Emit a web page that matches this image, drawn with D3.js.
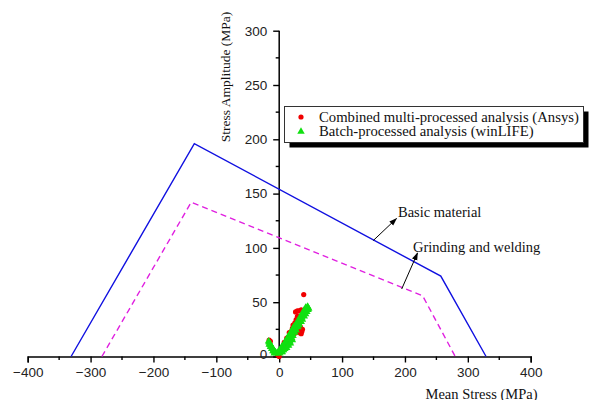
<!DOCTYPE html>
<html><head><meta charset="utf-8">
<script src="https://cdn.jsdelivr.net/npm/d3@7"></script>
<style>body{margin:0;background:#fff}svg{display:block}</style>
</head><body>
<svg id="c" width="589" height="400"></svg>
<script>
// ---- data ----
const xTicks = [-400,-300,-200,-100,0,100,200,300,400];
const yTicks = [0,50,100,150,200,250,300];
const basicX = [-331,-135,257,329];
const basicY = [0,196,74,0];
const grindX = [-282,-140,228,280];
const grindY = [0,142,56,0];
const redX = [0,-16,-14,-3,-1,3,5,7,9,11,13,15,17,19,21,23,25,27,29,26,29,32,35,37,39,31,33,35,37,34,36,20,24,28,8,12,16,22];
const redY = [0,15,14,2,1,5,8,10,12,14,16,18,21,23,26,28,31,34,37,41,42,42,43,41,57,22,24,21,25,27,23,17,21,24,13,17,22,29];
const greenX = [-17,-16,-15,-14,-13,-12,-11,-10,-9,-8,-7,-6,-4,-2,0,1,3,4,6,8,9,11,13,14,16,18,19,21,23,24,26,28,29,31,33,34,36,38,39,41,43,44,46,45,47,5,7,10,12,15,17,20,22,25,27,30,32,35,37,40,42,44,46,2,4,7,9,12,14,17,19,22,6,9,12,15,-16,-14,-12,-10,-8,24,27,30,33,36,39,42,18,21];
const greenY = [14,13,12,11,10,9,8,7,6,5,4,4,3,4,5,3,4,6,7,8,10,11,13,15,16,18,20,21,23,25,26,28,30,31,33,35,36,38,40,41,43,44,45,46,44,4,6,8,10,12,14,17,19,22,24,27,29,32,34,37,39,41,43,7,9,11,13,16,18,21,23,26,6,7,8,10,11,9,7,5,3,28,30,33,36,39,42,45,12,15];
const legendLabels = ["Combined multi-processed analysis (Ansys)","Batch-processed analysis (winLIFE)"];

// ---- chart ----
const svg = d3.select("#c");
const x = d3.scaleLinear().domain([-400,400]).range([27.7,530.7]);
const y = d3.scaleLinear().domain([0,300]).range([356.5,30.7]);

svg.append("defs").append("marker").attr("id","ah")
  .attr("viewBox","0 0 10 10").attr("refX",9).attr("refY",5)
  .attr("markerWidth",8).attr("markerHeight",8).attr("markerUnits","userSpaceOnUse")
  .attr("orient","auto")
  .append("path").attr("d","M0,1.5 L10,5 L0,8.5 Z").attr("fill","#000");

const sans = "'Liberation Sans', Arial, sans-serif";
const serif = "'Liberation Serif','Times New Roman',serif";

// x axis
const xAxis = d3.axisBottom(x).tickValues(xTicks).tickSize(6).tickPadding(5).tickFormat(d3.format("d"));
const gx = svg.append("g").attr("transform",`translate(0,${y(0)})`).call(xAxis);
gx.selectAll("line").attr("stroke","#000").attr("stroke-width",1.4);
gx.select(".domain").attr("stroke","#000").attr("stroke-width",1.5);
gx.selectAll("text").attr("font-family",sans).attr("font-size","13.5px").attr("fill","#222");
const xMinor = d3.range(-350,400,100);
svg.append("g").selectAll("line").data(xMinor).join("line")
  .attr("x1",d=>x(d)).attr("x2",d=>x(d)).attr("y1",y(0)).attr("y2",y(0)+3.5)
  .attr("stroke","#000").attr("stroke-width",1.4);

// y axis
const yAxis = d3.axisLeft(y).tickValues(yTicks).tickSize(6).tickPadding(6).tickFormat(d3.format("d"));
const gy = svg.append("g").attr("transform",`translate(${x(0)},0)`).call(yAxis);
gy.selectAll("line").attr("stroke","#000").attr("stroke-width",1.4);
gy.select(".domain").attr("stroke","#000").attr("stroke-width",1.5).attr("d",`M0,${y(300)}V${y(0)}`);
gy.selectAll("text").attr("font-family",sans).attr("font-size","13.5px").attr("fill","#222");
gy.selectAll(".tick").filter(d=>d===0).select("text").attr("dy","0.15em");
const yMinor = d3.range(25,300,50);
svg.append("g").selectAll("line").data(yMinor).join("line")
  .attr("x1",x(0)-3.5).attr("x2",x(0)).attr("y1",d=>y(d)).attr("y2",d=>y(d))
  .attr("stroke","#000").attr("stroke-width",1.4);

// axis titles
svg.append("text").attr("transform",`translate(230,77) rotate(-90)`).attr("text-anchor","middle")
  .attr("font-family",serif).attr("font-size","13.5px").attr("fill","#111")
  .text("Stress Amplitude (MPa)");
svg.append("text").attr("x",481.5).attr("y",398.5).attr("text-anchor","middle")
  .attr("font-family",serif).attr("font-size","14.5px").attr("fill","#111")
  .text("Mean Stress (MPa)");

// lines
const line = d3.line().x(d=>x(d[0])).y(d=>y(d[1]));
svg.append("path").datum(basicX.map((v,i)=>[v,basicY[i]])).attr("d",line)
  .attr("fill","none").attr("stroke","#1010e0").attr("stroke-width",1.4);
svg.append("path").datum(grindX.map((v,i)=>[v,grindY[i]])).attr("d",line)
  .attr("fill","none").attr("stroke","#e020e0").attr("stroke-width",1.4).attr("stroke-dasharray","6,4");

// scatter
svg.append("g").selectAll("circle").data(redX.map((v,i)=>[v,redY[i]])).join("circle")
  .attr("cx",d=>x(d[0])).attr("cy",d=>y(d[1])).attr("r",2.6).attr("fill","#f00000");
const tri = d3.symbol().type(d3.symbolTriangle).size(24);
svg.append("g").selectAll("path").data(greenX.map((v,i)=>[v,greenY[i]])).join("path")
  .attr("d",tri).attr("transform",d=>`translate(${x(d[0])},${y(d[1])})`).attr("fill","#10e010");

// annotations
svg.append("line").attr("x1",373.3).attr("y1",240.5).attr("x2",396.5).attr("y2",218.5)
  .attr("stroke","#000").attr("stroke-width",1).attr("marker-end","url(#ah)");
svg.append("text").attr("x",398).attr("y",217).attr("font-family",serif).attr("font-size","14.5px").attr("fill","#111").text("Basic material");
svg.append("line").attr("x1",401.7).attr("y1",289).attr("x2",417.5).attr("y2",253)
  .attr("stroke","#000").attr("stroke-width",1).attr("marker-end","url(#ah)");
svg.append("text").attr("x",413).attr("y",252).attr("font-family",serif).attr("font-size","14.5px").attr("fill","#111").text("Grinding and welding");

// legend
const lg = svg.append("g");
lg.append("rect").attr("x",289.5).attr("y",111.5).attr("width",299).attr("height",36).attr("fill","#000");
lg.append("rect").attr("x",284.5).attr("y",106.5).attr("width",299).attr("height",36).attr("fill","#fff").attr("stroke","#333").attr("stroke-width",1);
lg.append("circle").attr("cx",301).attr("cy",117).attr("r",2.6).attr("fill","#f00000");
lg.append("path").attr("d",tri).attr("transform","translate(301,131.5)").attr("fill","#10e010");
lg.selectAll("text.l").data(legendLabels).join("text").attr("class","l")
  .attr("x",319).attr("y",(d,i)=>121.5+i*14.5).attr("font-family",serif).attr("font-size","14.7px").attr("fill","#111").text(d=>d);
</script>
</body></html>
